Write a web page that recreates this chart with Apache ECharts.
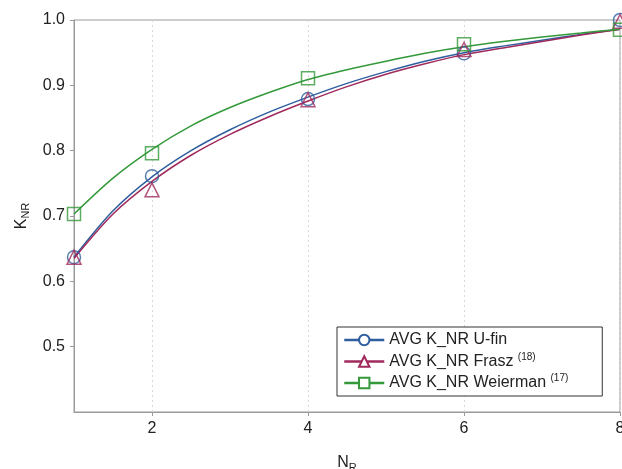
<!DOCTYPE html>
<html>
<head>
<meta charset="utf-8">
<script src="https://cdn.jsdelivr.net/npm/echarts@6/dist/echarts.min.js"></script>
<style>
  html, body { margin: 0; padding: 0; background: #fff; }
  #chart { width: 622px; height: 469px; }
</style>
</head>
<body>
<div id="chart"></div>
<script>
// measured points (N_R, K_NR)
const markerX = [1, 2, 4, 6, 8]
const ufinPoints = [0.637, 0.761, 0.879, 0.949, 1.0]
const fraszPoints = [0.637, 0.740, 0.878, 0.955, 0.998]
const weiermanPoints = [0.703, 0.796, 0.911, 0.963, 0.985]

// fitted curves, every 0.5
const curveX = [1, 1.5, 2, 2.5, 3, 3.5, 4, 4.5, 5, 5.5, 6, 6.5, 7, 7.5, 8]
const ufinCurve = [0.637, 0.708, 0.760, 0.800, 0.832, 0.859, 0.882, 0.903, 0.921, 0.937, 0.950, 0.960, 0.969, 0.978, 0.986]
const fraszCurve = [0.635, 0.703, 0.753, 0.793, 0.825, 0.852, 0.876, 0.898, 0.917, 0.933, 0.947, 0.957, 0.967, 0.977, 0.986]
const weiermanCurve = [0.703, 0.758, 0.802, 0.838, 0.866, 0.889, 0.909, 0.924, 0.937, 0.949, 0.959, 0.967, 0.974, 0.980, 0.986]

const xTicks = [2, 4, 6, 8]
const yTicks = [0.5, 0.6, 0.7, 0.8, 0.9, 1.0]

const seriesNames = ['AVG K_NR U-fin', 'AVG K_NR Frasz', 'AVG K_NR Weierman']
const seriesRefs = ['', '(18)', '(17)']
const colors = ['#2f5f9e', '#a02a5c', '#34993a']
const symbols = ['circle', 'triangle', 'rect']

const font = 'Liberation Sans, Arial, sans-serif'

const zip = (xs, ys) => xs.map((x, i) => [x, ys[i]])

const curves = [ufinCurve, fraszCurve, weiermanCurve]
const points = [ufinPoints, fraszPoints, weiermanPoints]

const series = []
seriesNames.forEach((name, i) => {
  // 拟合曲线
  series.push({
    name: name,
    type: 'line',
    smooth: 0.3,
    showSymbol: false,
    symbol: symbols[i],
    symbolSize: 13,
    data: zip(curveX, curves[i]),
    lineStyle: { color: colors[i], width: 1.5 },
    itemStyle: { color: '#fff', borderColor: colors[i], borderWidth: 1.5 },
    z: 2
  })
  // 测量点
  series.push({
    name: name,
    type: 'scatter',
    symbol: symbols[i],
    symbolSize: i === 1 ? 14 : 13,
    data: zip(markerX, points[i]),
    itemStyle: { color: 'rgba(0,0,0,0)', borderColor: colors[i], borderWidth: 1.5 },
    z: 3
  })
})

const chart = echarts.init(document.getElementById('chart'))
chart.setOption({
  animation: false,
  textStyle: { fontFamily: font },
  grid: {
    left: 74, right: 2, top: 20, bottom: 57,
    outerBoundsMode: 'none',
    show: true, borderColor: '#9a9a9a', borderWidth: 1
  },
  legend: {
    data: seriesNames,
    orient: 'vertical',
    left: 337,
    top: 327,
    itemWidth: 40,
    itemHeight: 13,
    itemGap: 4,
    padding: [5, 34, 5, 6],
    borderColor: '#333',
    borderWidth: 1,
    backgroundColor: '#fff',
    lineStyle: { width: 2.5 },
    formatter: (name) => {
      const ref = seriesRefs[seriesNames.indexOf(name)]
      return ref ? name + ' {sup|' + ref + '}' : name
    },
    textStyle: {
      fontSize: 16,
      color: '#222',
      fontFamily: font,
      rich: {
        sup: { fontSize: 10, color: '#222', padding: [0, 0, 9, 0], fontFamily: font }
      }
    }
  },
  xAxis: {
    type: 'value',
    min: 1,
    max: 8,
    name: '{a|N}{b|R}',
    nameLocation: 'middle',
    nameGap: 41,
    nameTextStyle: {
      rich: {
        a: { fontSize: 16, color: '#222', fontFamily: font },
        b: { fontSize: 11, color: '#222', padding: [9, 0, 0, 0], fontFamily: font }
      }
    },
    axisLine: { show: true, lineStyle: { color: '#9a9a9a' } },
    axisTick: { show: true, length: 4, customValues: xTicks, lineStyle: { color: '#9a9a9a' } },
    axisLabel: { customValues: xTicks, fontSize: 16, color: '#222', margin: 9 },
    splitLine: { show: true, lineStyle: { color: '#d8d8d8', type: [2, 3] } }
  },
  yAxis: {
    type: 'value',
    min: 0.4,
    max: 1.0,
    name: '{a|K}{b|NR}',
    nameLocation: 'middle',
    nameRotate: 90,
    nameGap: 42,
    nameTextStyle: {
      rich: {
        a: { fontSize: 16, color: '#222', fontFamily: font },
        b: { fontSize: 11, color: '#222', padding: [9, 0, 0, 0], fontFamily: font }
      }
    },
    axisLine: { show: true, lineStyle: { color: '#9a9a9a' } },
    axisTick: { show: true, length: 4, customValues: yTicks, lineStyle: { color: '#9a9a9a' } },
    axisLabel: {
      customValues: yTicks,
      fontSize: 16,
      color: '#222',
      margin: 9,
      formatter: (v) => v.toFixed(1)
    },
    splitLine: { show: false }
  },
  series: series
})
</script>
</body>
</html>
